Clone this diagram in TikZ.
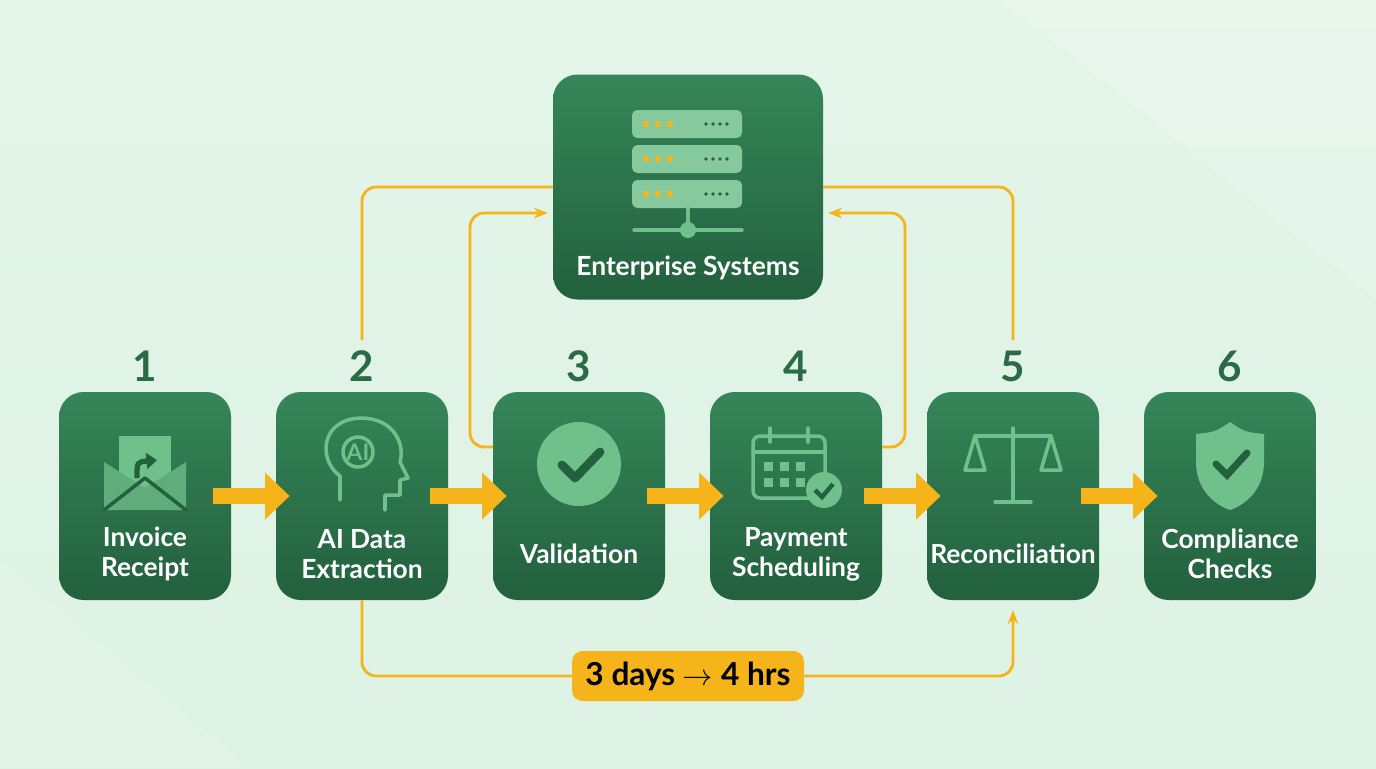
\documentclass[tikz,border=0pt]{standalone}
\usepackage{fontspec}
\setmainfont{Lato}
\usetikzlibrary{arrows.meta,positioning}
\definecolor{bgmint}{HTML}{DDF2E4}
\definecolor{boxdark}{HTML}{23603E}
\definecolor{boxlight}{HTML}{358658}
\definecolor{numgreen}{HTML}{2A6B45}
\definecolor{flow}{HTML}{F4B41A}
\definecolor{iconfg}{HTML}{6FC08A}
\newlength{\pxu}\setlength{\pxu}{0.02cm}
\tikzset{
  stepbox/.style={rounded corners=14pt,minimum width=172\pxu,minimum height=208\pxu,
    top color=boxlight,bottom color=boxdark,draw=none},
  lbl/.style={text=white,font=\fontsize{15}{17}\selectfont\bfseries,align=center},
  num/.style={text=numgreen,font=\fontsize{24}{26}\selectfont\bfseries},
  bigarrow/.style={draw=flow,line width=9pt,-{Triangle[length=14pt,width=26pt]}},
  link/.style={draw=flow,line width=1.6pt,rounded corners=8pt},
  icon/.style={draw=iconfg,line width=2pt,line join=round,line cap=round},
}
\begin{document}
\begin{tikzpicture}[x=0.02cm,y=-0.02cm]
  \useasboundingbox (0,0) rectangle (1376,768);
  \shade[top color=bgmint!80!white,bottom color=bgmint] (0,0) rectangle (1376,768);
  \fill[white,opacity=0.15] (1000,0) -- (1376,0) -- (1376,300) -- cycle;
  \fill[white,opacity=0.12] (0,560) -- (250,768) -- (0,768) -- cycle;

  % process steps
  \foreach \n/\x/\t in {1/145/{Invoice\\Receipt},2/362/{AI Data\\Extraction},3/579/{},
      4/796/{Payment\\Scheduling},5/1013/{},6/1230/{Compliance\\Checks}}{
    \node[stepbox] (b\n) at (\x,496) {};
    \node[num] (n\n) at (\x,366) {\n};
    \node[lbl] (t\n) at (\x,554) {\t};
  }
  \node[lbl] (t3b) at (579,554) {Validation};
  \node[lbl] (t5b) at (1013,554) {Reconciliation};
  \node[stepbox,minimum width=270\pxu,minimum height=225\pxu] (es) at (688,187) {};
  \node[lbl] (est) at (688,268) {Enterprise Systems};

  % flow arrows
  \foreach \a/\b in {1/2,2/3,3/4,4/5,5/6}
    \draw[bigarrow] ([xshift=-18\pxu]b\a.east) -- ([xshift=14\pxu]b\b.west);

  % links to enterprise systems
  \coordinate (e1) at (553,187);
  \coordinate (e2) at (548,213);
  \coordinate (e3) at (828,213);
  \coordinate (e4) at (823,187);
  \coordinate (up2) at (362,340);
  \coordinate (up5) at (1013,340);
  \draw[link] (up2) -- (362,187) -- (e1);
  \draw[link,-{Stealth[length=8pt]}] (493,447) -- (470,447) -- (470,213) -- (e2);
  \draw[link,-{Stealth[length=8pt]}] (882,447) -- (905,447) -- (905,213) -- (e3);
  \draw[link] (e4) -- (1013,187) -- (up5);
  \node[fill=flow,rounded corners=6pt,minimum width=232\pxu,minimum height=50\pxu,
    font=\fontsize{18}{20}\selectfont\bfseries] (gain) at (688,676) {3 days $\rightarrow$ 4 hrs};
  \draw[link] (b2.south) -- (362,676) -- (gain.west);
  \draw[link,-{Stealth[length=8pt]}] (gain.east) -- (1013,676) -- (1013,610);

  % icons
  \fill[iconfg] (119,436) rectangle (171,490);
  \fill[iconfg!80!boxdark] (104,462) -- (145,488) -- (186,462) -- (186,510) -- (104,510) -- cycle;
  \draw[icon,boxdark] (104,510) -- (145,478) -- (186,510);
  \draw[boxdark,line width=3pt,-{Triangle[length=6pt,width=9pt]}] (137,478) .. controls (137,462) .. (157,460);
  \draw[icon] (340,500) -- (340,476) .. controls (318,460) and (320,420) .. (360,418)
    .. controls (395,418) and (405,445) .. (400,462) -- (408,478) -- (400,480) -- (400,495)
    -- (385,495) -- (385,510);
  \node[text=iconfg,font=\fontsize{13}{13}\selectfont\bfseries] (ai) at (358,452) {AI};
  \draw[icon] (358,452) circle (15);
  \fill[iconfg] (579,464) circle (42);
  \draw[boxdark,line width=5pt,line cap=round,line join=round] (562,465) -- (575,478) -- (600,452);
  \draw[icon,rounded corners=4pt] (753,436) rectangle (825,498);
  \draw[icon] (753,452) -- (825,452) (770,428) -- (770,442) (808,428) -- (808,442);
  \foreach \i in {0,1,2} \foreach \j in {0,1}
    \fill[iconfg] (764+\i*16,462+\j*16) rectangle +(9,9);
  \fill[iconfg] (824,490) circle (18);
  \draw[boxdark,line width=2.5pt] (815,490) -- (822,497) -- (833,484);
  \draw[icon] (1013,428) -- (1013,500) (995,502) -- (1031,502) (975,436) -- (1051,436);
  \draw[icon] (975,436) -- (965,470) -- (985,470) -- cycle (1051,436) -- (1041,470) -- (1061,470) -- cycle;
  \fill[iconfg] (1230,422) .. controls (1215,432) .. (1196,434) -- (1196,462)
    .. controls (1196,490) and (1215,505) .. (1230,510) .. controls (1245,505) and (1264,490) .. (1264,462)
    -- (1264,434) .. controls (1245,432) .. cycle;
  \draw[boxdark,line width=4pt,line cap=round] (1216,464) -- (1227,475) -- (1247,453);
  \foreach \k in {0,1,2}{
    \fill[iconfg!85!white,rounded corners=3pt] (632,110+\k*35) rectangle (742,138+\k*35);
    \foreach \d in {0,1,2} \fill[flow] (646+\d*12,124+\k*35) circle (3.3);
    \foreach \d in {0,1,2,3} \fill[boxdark] (706+\d*7,124+\k*35) circle (1.8);
  }
  \draw[icon] (688,208) -- (688,222) (634,230) -- (742,230);
  \fill[iconfg] (688,230) circle (8);
\end{tikzpicture}
\end{document}
